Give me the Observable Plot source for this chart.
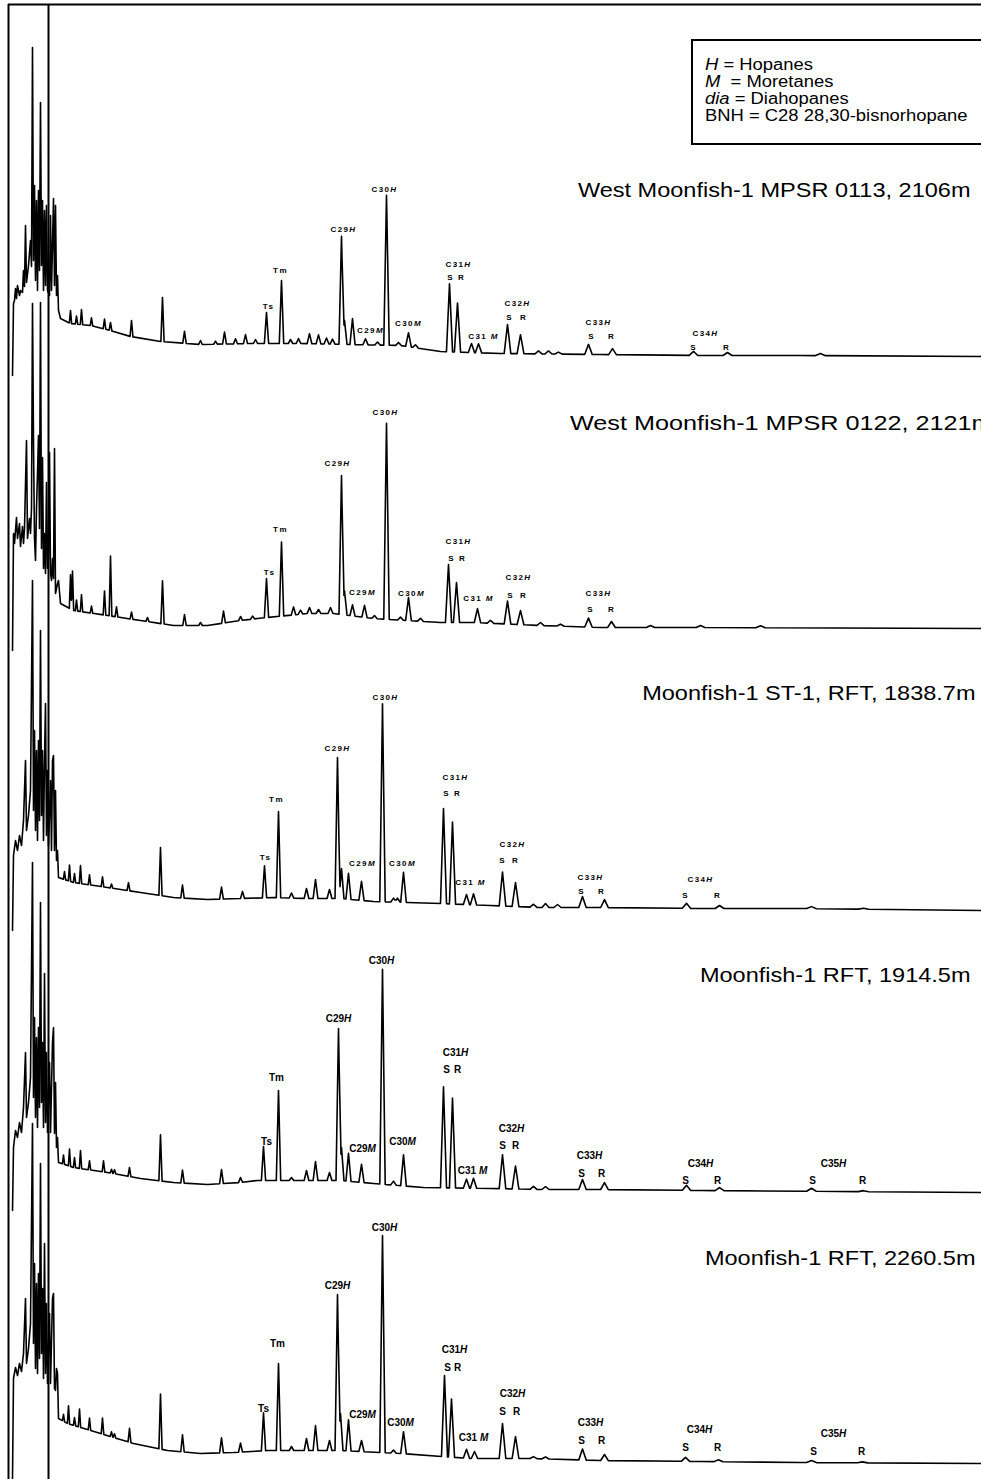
<!DOCTYPE html>
<html>
<head>
<meta charset="utf-8">
<script src="https://cdn.jsdelivr.net/npm/d3@7"></script>
<script src="https://cdn.jsdelivr.net/npm/@observablehq/plot@0.6"></script>
<style>
  html, body { margin: 0; padding: 0; background: #fff; overflow: hidden; }
  #wrap { position: relative; width: 981px; height: 1479px; overflow: hidden; }
  #wrap svg { display: block; }
  .key {
    position: absolute; left: 691px; top: 39px; width: 330px; height: 106px;
    border: 2px solid #000; box-sizing: border-box; background: #fff;
    font: 16px "Liberation Sans", Arial, sans-serif; line-height: 17px;
    padding: 15px 0 0 12px; color: #000;
  }
  .key div { transform: scaleX(1.15); transform-origin: 0 50%; white-space: nowrap; }
</style>
</head>
<body>
<div id="wrap"></div>
<script>
// m/z 191 fragmentograms (hopanes), five samples stacked top to bottom.
// Retention axis in scan units, intensity in arbitrary detector units
// measured from each trace's late-eluting baseline.

const sampleNames = [
  "West Moonfish-1 MPSR 0113, 2106m",
  "West Moonfish-1 MPSR 0122, 2121m",
  "Moonfish-1 ST-1, RFT, 1838.7m",
  "Moonfish-1 RFT, 1914.5m",
  "Moonfish-1 RFT, 2260.5m"
];

// scan of the solvent-front cut marker
const cutScan = 48;

// early unresolved cluster: [scan, intensity]
const cluster1 = [[12,-19],[13,53],[14,56],[15,68],[16,58],[17,71],[19,61],[20,66],[22,64],[23,86],[24,70],[25,131],[26,74],[28,91],[30,116],[31,90],[32,309],[33,96],[34,171],[35,76],[36,156],[37,66],[38,166],[39,86],[40,254],[41,91],[42,156],[43,66],[44,146],[45,71],[46,151],[47,66],[49,61],[50,141],[51,66],[53,158],[54,71],[55,151],[56,61],[57,81]];
const cluster2 = [[12,-22],[13,95],[14,85],[16,111],[17,90],[19,105],[20,82],[22,102],[23,85],[24,100],[26,188],[27,90],[29,110],[30,95],[31,120],[32,325],[33,185],[34,90],[35,68],[36,120],[37,155],[38,193],[39,100],[40,326],[41,80],[42,171],[43,60],[44,95],[45,55],[46,146],[47,60],[48,70],[49,176],[50,55],[51,48],[52,70],[53,50],[54,180],[55,35],[56,40],[57,45]];
const cluster3 = [[12,-20],[13,55],[15,70],[17,60],[19,75],[21,65],[23,90],[25,150],[26,80],[28,95],[30,120],[32,330],[33,100],[34,180],[35,80],[36,160],[37,70],[38,170],[39,90],[40,280],[41,95],[42,160],[43,70],[44,150],[45,207],[46,75],[47,140],[48,65],[50,130],[51,60],[52,150],[53,155],[54,60],[55,120],[56,50],[57,60]];
const cluster4 = [[12,-18],[13,45],[15,62],[17,55],[19,70],[21,60],[23,85],[25,140],[26,75],[28,90],[30,115],[32,330],[33,95],[34,175],[35,75],[36,155],[37,65],[38,165],[39,85],[40,290],[41,90],[42,150],[43,65],[44,219],[45,70],[46,140],[47,60],[49,130],[50,60],[52,150],[53,165],[54,59],[55,110],[56,45],[57,55]];
const cluster5 = [[12,-16],[13,85],[15,96],[17,88],[19,100],[21,92],[23,110],[25,165],[26,100],[28,115],[30,140],[32,340],[33,120],[34,200],[35,95],[36,180],[37,90],[38,190],[39,105],[40,300],[41,110],[42,175],[43,85],[44,220],[45,90],[46,160],[47,80],[49,150],[50,80],[52,165],[53,170],[54,75],[55,73],[56,95],[57,90]];

// baseline drift: [scan, intensity]
const base1 = [[58,46],[60,38],[70,33],[90,31],[110,26],[130,20],[160,15],[200,12],[250,13],[300,13],[350,12],[400,11],[440,5],[470,4],[500,3],[600,2],[700,1],[800,1],[981,0]];
const base2 = [[58,48],[60,25],[73,18],[107,13],[140,8],[173,3],[207,3],[240,8],[257,10],[307,15],[333,15],[373,10],[440,6],[473,6],[540,3],[600,1],[700,1],[981,0]];
const base3 = [[58,33],[73,28],[107,23],[140,18],[173,13],[207,11],[240,12],[273,13],[307,12],[340,12],[373,9],[407,8],[440,7],[490,5],[540,3],[600,3],[700,2],[800,2],[981,0]];
const base4 = [[58,30],[73,25],[107,20],[140,14],[173,10],[207,8],[240,10],[257,12],[307,12],[340,12],[373,9],[423,5],[490,4],[540,3],[600,3],[700,2],[981,0]];
const base5 = [[58,45],[67,40],[100,30],[133,20],[167,13],[200,10],[233,11],[267,13],[300,13],[340,13],[400,10],[470,5],[530,5],[600,3],[700,2],[800,1],[981,0]];

// resolved peaks: [scan, height above baseline]
const peaks1 = [[70,13],[76,8],[81,15],[91,8],[104,10],[110,8],[131,16],[162,44],[184,12],[200,4],[215,3],[224,12],[235,5],[245,9],[255,4],[266,31],[281,63],[290,4],[298,5],[309,10],[318,9],[326,6],[332,5],[341,108],[344,24],[352,26],[365,6],[377,3],[386,150],[398,3],[408,14],[415,3],[449,68],[457,49],[471,9],[478,9],[507,29],[520,19],[538,3],[548,3],[558,2],[588,10],[612,6],[693,4],[727,3],[820,2]];
const peaks2 = [[70,34],[72,39],[76,11],[81,17],[91,7],[104,24],[110,60],[116,10],[131,7],[147,4],[162,43],[184,11],[200,3],[223,12],[240,4],[252,3],[266,39],[281,74],[293,8],[300,4],[309,6],[318,4],[330,6],[341,139],[344,24],[352,11],[364,12],[374,3],[386,196],[400,3],[408,23],[420,3],[448,58],[456,40],[477,14],[490,3],[507,23],[520,14],[540,3],[560,2],[588,9],[611,6],[650,2],[700,2],[760,2]];
const peaks3 = [[64,8],[69,16],[74,9],[80,18],[89,10],[102,10],[111,4],[128,8],[160,48],[182,13],[221,12],[242,7],[264,32],[278,86],[291,5],[306,10],[315,19],[329,9],[337,141],[341,30],[348,26],[361,19],[382,198],[393,4],[397,4],[403,30],[443,95],[452,82],[466,10],[473,11],[502,34],[515,24],[533,3],[545,4],[557,3],[582,11],[604,8],[686,5],[719,3],[811,2],[863,1]];
const peaks4 = [[63,9],[69,17],[74,10],[80,18],[89,9],[103,11],[111,4],[114,4],[129,9],[160,46],[182,13],[221,14],[240,5],[263,34],[278,90],[291,3],[306,10],[315,19],[329,8],[338,152],[341,33],[348,28],[361,18],[382,215],[393,4],[403,31],[443,101],[452,90],[466,9],[473,10],[502,34],[515,23],[533,3],[545,3],[582,10],[604,7],[686,5],[719,3],[811,3],[863,1]];
const peaks5 = [[63,7],[68,18],[74,8],[79,18],[89,12],[102,16],[111,5],[114,4],[129,14],[160,55],[182,17],[221,15],[240,9],[263,38],[278,87],[291,4],[306,12],[315,25],[329,10],[337,156],[340,37],[348,31],[361,11],[382,217],[393,3],[403,22],[444,81],[451,58],[466,9],[474,7],[502,35],[515,22],[533,2],[545,2],[582,11],[604,6],[685,4],[718,2],[811,2],[862,1]];

// compound annotations: [text, scan, intensity]
const labels1 = [["Ts",268,50],["Tm",280,86],["C29H",343,127],["C29M",370,26],["C30H",384,167],["C30M",408,33],["C31H",458,92],["S",450,79],["R",461,79],["C31 M",483,20],["C32H",517,53],["S",509,39],["R",523,39],["C33H",598,34],["S",591,20],["R",611,20],["C34H",705,23],["S",693,9],["R",726,9]];
const labels2 = [["Ts",269,56],["Tm",280,99],["C29H",337,165],["C29M",362,36],["C30H",385,216],["C30M",411,35],["C31H",458,87],["S",451,70],["R",462,70],["C31 M",478,30],["C32H",518,51],["S",510,33],["R",523,33],["C33H",598,35],["S",590,19],["R",611,19]];
const labels3 = [["Ts",265,53],["Tm",276,111],["C29H",337,162],["C29M",362,47],["C30H",385,213],["C30M",402,47],["C31H",455,133],["S",446,117],["R",457,117],["C31 M",470,28],["C32H",512,66],["S",502,50],["R",515,50],["C33H",590,33],["S",581,19],["R",601,19],["C34H",700,31],["S",685,15],["R",717,15]];
const labels4 = [["Ts",266,51],["Tm",276,115],["C29H",338,174],["C29M",362,44],["C30H",381,232],["C30M",402,51],["C31H",455,140],["S",446,123],["R",457,123],["C31 M",472,22],["C32H",511,64],["S",502,47],["R",515,47],["C33H",589,37],["S",581,19],["R",601,19],["C34H",700,29],["S",685,12],["R",717,12],["C35H",833,29],["S",812,12],["R",862,12]];
const labels5 = [["Ts",263,55],["Tm",277,120],["C29H",337,178],["C29M",362,49],["C30H",384,236],["C30M",400,41],["C31H",454,114],["S",447,96],["R",457,96],["C31 M",473,26],["C32H",512,70],["S",502,52],["R",516,52],["C33H",590,41],["S",581,23],["R",601,23],["C34H",699,34],["S",685,16],["R",717,16],["C35H",833,30],["S",813,12],["R",861,12]];

// sample caption anchors: [right-edge scan, intensity]
const captionAt = [[970,166],[992,205],[975,217],[970,217],[975,205]];

// ---- layout ----
const W = 981, H = 1479;
// vertical offset of each trace's baseline in stacked intensity units
const stackOffset = [1123, 851, 569, 287, 16];
// captions are set in a horizontally widened face
const captionStretch = [1.12, 1.2, 1.12, 1.12, 1.12];

const clusters = [cluster1, cluster2, cluster3, cluster4, cluster5];
const bases = [base1, base2, base3, base4, base5];
const peaks = [peaks1, peaks2, peaks3, peaks4, peaks5];
const labels = [labels1, labels2, labels3, labels4, labels5];

// value of a piecewise-linear baseline at a given scan
function baselineAt(pts, x) {
  if (x <= pts[0][0]) return pts[0][1];
  for (let i = 1; i < pts.length; i++) {
    if (x <= pts[i][0]) {
      const [x0, y0] = pts[i - 1], [x1, y1] = pts[i];
      return y0 + (y1 - y0) * (x - x0) / (x1 - x0);
    }
  }
  return pts[pts.length - 1][1];
}

// peaks broaden with retention time
const halfWidth = x => 0.8 + x / 200;

// trace = cluster vertices, then baseline plus triangular peaks,
// evaluated at every breakpoint so overlapping peaks add up
function buildTrace(cluster, base, pk) {
  const tri = pk.map(([x, h]) => ({x, h, w: halfWidth(x)}));
  const start = base[0][0];
  const xs = new Set(base.map(d => d[0]));
  for (const p of tri) { xs.add(p.x - p.w); xs.add(p.x); xs.add(p.x + p.w); }
  const out = cluster.filter(d => d[0] < start).map(([x, l]) => ({x, l}));
  for (const x of [...xs].filter(v => v >= start).sort((a, b) => a - b)) {
    let l = baselineAt(base, x);
    for (const p of tri) {
      const d = Math.abs(x - p.x);
      if (d < p.w) l += p.h * (1 - d / p.w);
    }
    out.push({x, l});
  }
  return out;
}

const traceData = clusters.flatMap((c, i) =>
  buildTrace(c, bases[i], peaks[i]).map(d => ({x: d.x, y: stackOffset[i] + d.l, s: i})));

const labelSpaced = labels.slice(0, 3).flatMap((ls, i) =>
  ls.map(([t, x, l]) => ({t, x, y: stackOffset[i] + l})));
const labelPlain = labels.slice(3).flatMap((ls, j) =>
  ls.map(([t, x, l]) => ({t, x, y: stackOffset[j + 3] + l})));
const captions = sampleNames.map((t, i) => ({t, x: captionAt[i][0], y: stackOffset[i] + captionAt[i][1]}));

const font = "Liberation Sans, Arial, sans-serif";

const chart = Plot.plot({
  width: W, height: H,
  marginTop: 4, marginLeft: 8, marginRight: 0, marginBottom: 0,
  x: {domain: [8, W], axis: null},
  y: {domain: [0, H - 4], axis: null},
  style: {background: "#fff", fontFamily: font},
  marks: [
    Plot.ruleX([8], {stroke: "#000", strokeWidth: 2}),
    Plot.ruleY([H - 4], {stroke: "#000", strokeWidth: 2}),
    Plot.ruleX([cutScan], {stroke: "#000", strokeWidth: 2}),
    Plot.line(traceData, {x: "x", y: "y", z: "s", stroke: "#000", strokeWidth: 1.6, strokeLinejoin: "round", curve: "linear"}),
    Plot.text(labelSpaced, {x: "x", y: "y", text: "t", fontSize: 8, fontWeight: "bold", fill: "#000"}),
    Plot.text(labelPlain, {x: "x", y: "y", text: "t", fontSize: 10, fontWeight: "bold", fill: "#000"}),
    Plot.text(captions, {x: "x", y: "y", text: "t", fontSize: 21, textAnchor: "end", fill: "#000"})
  ]
});

const wrap = document.getElementById("wrap");
wrap.appendChild(chart);

// text groups in mark order: spaced labels, plain labels, captions
const textGroups = chart.querySelectorAll('g[aria-label="text"]');
const spacedG = textGroups[0], plainG = textGroups[1], captionG = textGroups[2];

d3.select(spacedG).selectAll("text").style("letter-spacing", "1.4px");

// italic H / M suffixes on the compound labels
d3.selectAll([...spacedG.querySelectorAll("text"), ...plainG.querySelectorAll("text")]).each(function () {
  const s = this.textContent;
  const m = s.match(/^(C\d\d ?)([HM])$/);
  if (!m) return;
  const el = d3.select(this);
  el.text(null);
  el.append("tspan").text(m[1]);
  el.append("tspan").style("font-style", "italic").text(m[2]);
});

// widen captions horizontally
d3.select(captionG).selectAll("text").each(function (_, i) {
  const len = this.getComputedTextLength();
  this.setAttribute("textLength", (len * captionStretch[i]).toFixed(1));
  this.setAttribute("lengthAdjust", "spacingAndGlyphs");
});

const key = document.createElement("div");
key.className = "key";
key.innerHTML =
  '<div><i>H</i> = Hopanes</div>' +
  '<div><i>M</i>&nbsp; = Moretanes</div>' +
  '<div><i>dia</i> = Diahopanes</div>' +
  '<div>BNH = C28 28,30-bisnorhopane</div>';
wrap.appendChild(key);
</script>
</body>
</html>
